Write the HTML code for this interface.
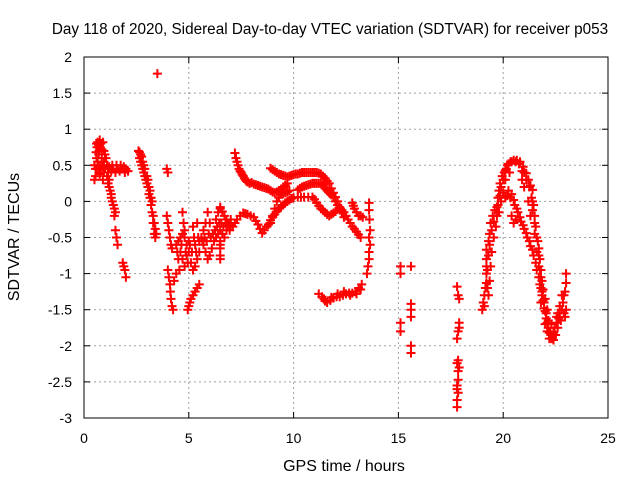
<!DOCTYPE html>
<html><head><meta charset="utf-8"><style>
body{margin:0;background:#fff}
svg text{font-family:"Liberation Sans",sans-serif;font-size:14px;fill:#000}
</style></head><body>
<svg id="chart" width="640" height="480" xmlns="http://www.w3.org/2000/svg">
<text x="330" y="34" text-anchor="middle" style="font-size:15.3px">Day 118 of 2020, Sidereal Day-to-day VTEC variation (SDTVAR) for receiver p053</text>
<text x="344" y="471" text-anchor="middle" style="font-size:16px">GPS time / hours</text>
<text transform="translate(19,237) rotate(-90)" text-anchor="middle" style="font-size:16px">SDTVAR / TECUs</text>
<g id="grid"></g>
<g id="ticks"></g>
<g id="marks"></g>
<rect x="84" y="57" width="524" height="361" fill="none" stroke="#000" stroke-width="1"/>
</svg>
<script>
const xTicks=[0,5,10,15,20,25];
const yTicks=[2,1.5,1,0.5,0,-0.5,-1,-1.5,-2,-2.5,-3];
const yTickLabels=["2","1.5","1","0.5","0","-0.5","-1","-1.5","-2","-2.5","-3"];
const trackEarly=[[0.5,0.3],[0.55,0.35],[0.6,0.45],[0.6,0.6],[0.62,0.75],[0.65,0.82],[0.7,0.78],[0.75,0.85],[0.8,0.8],[0.85,0.72],[0.9,0.82],[0.95,0.7],[1.0,0.65],[0.7,0.5],[0.8,0.4],[0.9,0.3],[0.55,0.45],[0.65,0.55],[0.7,0.65],[0.85,0.6],[0.6,0.8],[0.72,0.7],[0.95,0.55],[1.05,0.6],[0.5,0.5],[0.58,0.68],
[0.7,0.45],[0.8,0.5],[0.9,0.48],[1.0,0.45],[1.1,0.5],[1.2,0.48],[1.3,0.42],[1.4,0.45],[1.5,0.4],[1.6,0.45],[1.7,0.42],[1.8,0.45],[1.9,0.48],[2.0,0.45],[2.1,0.42],[0.75,0.38],[0.95,0.4],[1.15,0.4],[1.35,0.5],[1.55,0.5],[1.75,0.5],[1.95,0.4],
[1.1,0.35],[1.15,0.25],[1.2,0.2],[1.25,0.15],[1.3,0.05],[1.35,0.0],[1.4,-0.05],[1.45,-0.1],[1.5,-0.15],[1.2,0.3],[1.3,0.1],[1.45,-0.2],[1.5,-0.4],[1.55,-0.5],[1.6,-0.6],
[1.85,-0.85],[1.9,-0.9],[1.95,-0.95],[2.0,-1.05]];
const trackMorning=[[2.6,0.7],[2.65,0.6],[2.7,0.55],[2.75,0.5],[2.8,0.45],[2.85,0.4],[2.9,0.35],[2.95,0.3],[3.0,0.25],[3.05,0.2],[3.1,0.1],[3.15,0.05],[3.2,-0.05],[3.25,-0.15],[3.3,-0.3],[3.35,-0.45],[3.4,-0.5],[2.7,0.65],[2.8,0.55],[2.9,0.45],[3.0,0.35],[3.1,0.2],[2.65,0.68],[2.75,0.62],[2.85,0.5],[3.05,0.3],[3.15,0.15],[3.2,0.05],[3.25,0.0],
[3.5,1.77],[3.95,0.45],[4.0,0.4],[3.3,-0.2],[3.35,-0.3],[3.4,-0.38],[3.45,-0.45],
[4.0,-0.95],[4.05,-1.05],[4.1,-1.15],[4.12,-1.25],[4.15,-1.35],[4.2,-1.45],[4.25,-1.5],
[4.0,-0.3],[4.05,-0.4],[4.1,-0.5],[4.15,-0.6],[4.2,-0.65],[3.95,-0.2],
[4.4,-0.6],[4.5,-0.55],[4.6,-0.7],[4.7,-0.8],[4.8,-0.9],[4.5,-0.8],[4.4,-1.0],[4.3,-1.1],[4.6,-0.5],[4.7,-0.45],[4.8,-0.5],[4.9,-0.6],[5.0,-0.7],[5.1,-0.85],[5.2,-0.95],[5.3,-0.9],[5.4,-0.8],[5.5,-0.7],[4.7,-0.15],[4.75,-0.3],[4.8,-0.4],[5.2,-0.35],[5.25,-0.5],[5.3,-0.6],[5.6,-0.5],[5.7,-0.4],[5.8,-0.3],[5.9,-0.15],[5.7,-0.6],[5.8,-0.7],[5.9,-0.8],[6.0,-0.75],[6.1,-0.65],[6.2,-0.55],[6.3,-0.5],[6.4,-0.45],[6.5,-0.4],[6.6,-0.45],[6.7,-0.5],[6.8,-0.4],[6.9,-0.3],[7.0,-0.25],[6.3,-0.25],[6.4,-0.15],[6.5,-0.1],[6.0,-0.3],[5.5,-0.55],[5.4,-0.3],[4.55,-0.95],[4.9,-0.75],[5.0,-0.55],[6.5,-0.6],[6.5,-0.75],
[4.45,-0.7],[4.65,-0.6],[4.85,-0.7],[4.95,-0.85],[5.05,-0.6],[5.15,-0.7],[5.35,-0.7],[5.45,-0.5],[5.65,-0.55],[5.75,-0.5],[5.85,-0.55],[5.95,-0.45],[6.05,-0.5],[6.15,-0.45],[6.25,-0.4],[6.35,-0.35],[6.45,-0.3],[6.55,-0.3],[6.65,-0.35],[6.75,-0.3],[6.85,-0.35],[6.95,-0.4],
[4.95,-1.5],[5.0,-1.45],[5.05,-1.4],[5.1,-1.35],[5.2,-1.3],[5.3,-1.25],[5.4,-1.2],[5.5,-1.15]];
const trackMidday=[[7.2,0.67],[7.3,0.55],[7.4,0.45],[7.5,0.4],[7.6,0.35],[7.7,0.3],[7.8,0.27],[7.9,0.25],[8.1,0.24],[8.3,0.22],[8.5,0.2],[8.7,0.18],[8.9,0.15],[9.1,0.12],[9.3,0.15],[9.5,0.2],[9.7,0.25],[7.25,0.6],[7.35,0.5],[7.45,0.42],[7.55,0.37],[7.65,0.32],[7.75,0.28],[8.0,0.26],[8.2,0.23],[8.4,0.21],[8.6,0.19],[8.8,0.17],[9.0,0.13],[9.2,0.13],[9.4,0.17],[9.6,0.22],
[8.9,0.46],[9.1,0.42],[9.3,0.38],[9.5,0.36],[9.7,0.34],[9.9,0.36],[10.1,0.38],[10.3,0.39],[10.5,0.4],[10.7,0.4],[10.9,0.4],[11.1,0.4],[11.3,0.38],[11.5,0.32],[11.7,0.25],[11.9,0.12],[12.1,0.0],[12.2,-0.08],[12.4,-0.15],[12.6,-0.25],[12.8,-0.35],[13.0,-0.42],[13.2,-0.5],[9.0,0.44],[9.2,0.4],[9.4,0.37],[9.6,0.35],[9.8,0.35],[10.0,0.37],[10.2,0.38],[10.4,0.4],[10.6,0.4],[10.8,0.4],[11.0,0.4],[11.2,0.39],[11.4,0.35],[11.6,0.28],[11.8,0.18],[12.0,0.06],[12.3,-0.12],[12.5,-0.2],[12.7,-0.3],[12.9,-0.38],[13.1,-0.46],
[10.2,0.16],[10.4,0.2],[10.6,0.22],[10.8,0.24],[11.0,0.25],[11.3,0.25],[11.5,0.18],[11.7,0.12],[11.9,0.06],[12.1,-0.05],[12.3,-0.15],[12.4,-0.22],[10.3,0.18],[10.5,0.21],[10.7,0.23],[10.9,0.25],[11.1,0.25],[11.2,0.25],[11.4,0.22],[11.6,0.15],[11.8,0.09],[12.0,0.0],[12.2,-0.1],
[8.9,-0.26],[9.1,-0.18],[9.3,-0.1],[9.5,-0.05],[9.7,0.0],[9.9,0.04],[10.2,0.06],[10.5,0.06],[10.9,0.06],[11.1,-0.02],[11.3,-0.1],[11.5,-0.15],[11.7,-0.2],[11.9,-0.16],[12.2,-0.12],[12.5,-0.2],[9.0,-0.22],[9.2,-0.14],[9.4,-0.08],[9.6,-0.02],[9.8,0.02],[10.0,0.05],[10.35,0.06],[10.7,0.06],[11.0,0.03],[11.2,-0.06],[11.4,-0.12],[11.6,-0.18],[11.8,-0.18],[12.0,-0.14],[12.35,-0.15],
[6.5,-0.08],[6.7,-0.2],[6.9,-0.3],[7.1,-0.35],[7.3,-0.25],[7.6,-0.16],[7.8,-0.18],[8.1,-0.22],[8.3,-0.32],[8.5,-0.44],[8.7,-0.35],[8.9,-0.3],[9.0,-0.2],[9.2,0.0],[9.4,0.1],[9.6,0.12],[9.8,0.15],[6.6,-0.14],[6.8,-0.25],[7.0,-0.33],[7.2,-0.3],[7.45,-0.2],[7.7,-0.17],[7.95,-0.2],[8.2,-0.27],[8.4,-0.38],[8.6,-0.4],[8.8,-0.32],[9.1,-0.1],[9.3,0.05],[9.5,0.11],[9.7,0.13],
[6.5,-0.55],[6.5,-0.65],[6.5,-0.8],[12.8,-0.02],[12.9,-0.1],[13.0,-0.15],[13.1,-0.2],[13.3,-0.22],[12.85,-0.06],[13.2,-0.2],
[13.6,-0.02],[13.6,-0.12],[13.62,-0.25],[13.65,-0.4],[13.6,-0.5],[13.65,-0.6],[13.6,-0.7],[13.6,-0.8],[13.55,-0.9],[13.5,-1.0],
[11.2,-1.28],[11.35,-1.32],[11.5,-1.38],[11.6,-1.4],[11.75,-1.37],[11.9,-1.34],[12.05,-1.32],[12.2,-1.32],[12.35,-1.3],[12.5,-1.28],[12.65,-1.27],[12.8,-1.27],[12.95,-1.25],[13.1,-1.2],[13.25,-1.15],[11.45,-1.35],[11.8,-1.33],[12.1,-1.28],[12.4,-1.25],[12.7,-1.3],[13.0,-1.28],[13.2,-1.22]];
const trackAfternoon=[[15.1,-0.9],[15.1,-1.0],[15.1,-1.68],[15.1,-1.8],[15.6,-0.9],[15.6,-1.42],[15.6,-1.5],[15.6,-1.6],[15.6,-2.0],[15.6,-2.1],
[17.8,-1.18],[17.85,-1.3],[17.9,-1.35],[17.9,-1.68],[17.85,-1.8],[17.8,-1.9],[17.85,-2.2],[17.8,-2.24],[17.85,-2.35],[17.85,-2.47],[17.8,-2.55],[17.85,-2.65],[17.8,-2.75],[17.8,-2.85],[17.9,-1.75],[17.9,-2.3],[17.8,-2.6]];
const trackHump=[[19.0,-1.5],[19.05,-1.4],[19.1,-1.3],[19.15,-1.2],[19.2,-1.13],[19.2,-1.0],[19.2,-0.9],[19.2,-0.8],[19.2,-0.67],[19.3,-0.55],[19.35,-0.45],[19.4,-0.3],[19.5,-0.2],[19.6,-0.12],[19.7,-0.08],[19.75,0.05],[19.8,0.15],[19.85,0.25],[19.95,0.35],[20.1,0.43],[20.2,0.5],[20.35,0.55],[20.5,0.57],[20.65,0.57],[20.8,0.55],[20.95,0.48],[21.1,0.39],[21.2,0.3],[21.3,0.22],[21.4,0.16],[21.4,0.0],[21.4,-0.12],[21.5,-0.3],[21.6,-0.5],[21.7,-0.65],[21.75,-0.8],[21.8,-0.95],[21.85,-1.1],[21.9,-1.22],[22.0,-1.35],[22.1,-1.5],[22.15,-1.65],[22.2,-1.82],[22.3,-1.85],[22.4,-1.82],[22.55,-1.68],[22.7,-1.55],[22.85,-1.4],[22.95,-1.25],[23.0,-1.13],[23.0,-1.0],
[19.3,-1.3],[19.35,-1.1],[19.4,-0.9],[19.45,-0.7],[19.55,-0.5],[19.65,-0.35],[19.8,-0.15],[19.9,0.0],[20.0,0.12],[20.2,0.08],[20.35,0.05],[20.5,0.02],[20.65,-0.1],[20.8,-0.22],[20.95,-0.33],[21.1,-0.44],[21.25,-0.55],[21.4,-0.67],[21.55,-0.85],[21.7,-1.05],[21.8,-1.2],[21.9,-1.37],[22.0,-1.52],[22.1,-1.68],[22.25,-1.82],[22.4,-1.92],[22.5,-1.85],[22.6,-1.75],[22.75,-1.65],[22.9,-1.55],[23.0,-1.5],
[20.5,-0.3],[20.6,-0.25],[20.4,-0.2],[20.9,0.3],[21.0,0.2],[21.2,0.0],[21.3,-0.2],[21.5,-0.45],[21.6,-0.7],[21.7,-0.9],[21.8,-1.4],[22.0,-1.7],[22.3,-1.7],[22.6,-1.55],[22.8,-1.3],[20.1,0.3],[20.3,0.4],
[19.1,-1.45],[19.25,-1.2],[19.25,-0.95],[19.3,-0.75],[19.35,-0.6],[19.45,-0.4],[19.55,-0.28],[19.7,-0.2],[19.75,-0.05],[19.85,0.08],[19.9,0.2],[20.0,0.3],[20.05,0.4],[20.15,0.45],[20.25,0.52],[20.4,0.55],[20.6,0.55],[20.75,0.52],[20.9,0.42],[21.0,0.4],[21.1,0.3],[21.25,0.2],[21.35,0.05],[21.45,-0.05],[21.5,-0.2],[21.55,-0.35],[21.65,-0.55],[21.7,-0.75],[21.75,-0.95],[21.8,-1.05],[21.85,-1.25],[21.95,-1.4],[22.05,-1.55],[22.1,-1.8],[22.2,-1.9],[22.35,-1.88],[22.45,-1.75],[22.55,-1.6],[22.65,-1.62],[22.7,-1.45],[22.8,-1.5],[22.9,-1.3],[22.95,-1.6],
[20.1,0.05],[20.25,0.15],[20.4,0.1],[20.55,-0.05],[20.7,-0.15],[20.85,-0.28],[21.0,-0.38],[21.15,-0.5],[21.3,-0.62],[21.45,-0.75],[21.6,-0.95],[21.75,-1.15],[21.85,-1.3],[21.95,-1.48],[22.05,-1.62],[22.15,-1.75],[22.3,-1.9]];
const x0=84,x1=608,y0=418,y1=57;
const xMin=0,xMax=25,yMin=-3,yMax=2;
function X(v){return x0+(v-xMin)/(xMax-xMin)*(x1-x0);}
function Y(v){return y0-(v-yMin)/(yMax-yMin)*(y0-y1);}
const NS="http://www.w3.org/2000/svg";
const grid=document.getElementById('grid'),ticks=document.getElementById('ticks'),marks=document.getElementById('marks');
function mk(t,a,p){const e=document.createElementNS(NS,t);for(const k in a)e.setAttribute(k,a[k]);p.appendChild(e);return e;}
xTicks.forEach((v,i)=>{
 const x=X(v);
 if(i>0&&i<xTicks.length-1){const g=mk('line',{x1:x,x2:x,y1:y1,y2:y0,stroke:'#a0a0a0','stroke-dasharray':'2,3'},grid);
 
 }
 const t=mk('line',{x1:x,x2:x,y1:y0,y2:y0-6,stroke:'#000'},ticks);
 
 
 mk('line',{x1:x,x2:x,y1:y1,y2:y1+6,stroke:'#000'},ticks);
 const l=mk('text',{x:x,y:443,'text-anchor':'middle'},ticks);l.textContent=v;
 
 
});
yTicks.forEach((v,i)=>{
 const y=Y(v);
 if(i>0&&i<yTicks.length-1){const g=mk('line',{x1:x0,x2:x1,y1:y,y2:y,stroke:'#a0a0a0','stroke-dasharray':'2,3'},grid);
 
 }
 const t=mk('line',{x1:x0,x2:x0+6,y1:y,y2:y,stroke:'#000'},ticks);
 
 
 mk('line',{x1:x1,x2:x1-6,y1:y,y2:y,stroke:'#000'},ticks);
 const l=mk('text',{x:72,y:y+5,'text-anchor':'end'},ticks);l.textContent=yTickLabels[i];
 
 
});
[trackEarly,trackMorning,trackMidday,trackAfternoon,trackHump].forEach(tr=>{
 tr.forEach(p=>{
  const cx=X(p[0]),cy=Y(p[1]);
  const e=mk('path',{d:`M${cx-4.5},${cy}H${cx+4.5}M${cx},${cy-4.5}V${cy+4.5}`,stroke:'#ff0000','stroke-width':'2',fill:'none'},marks);
  
  
 });
});
</script>
</body></html>
